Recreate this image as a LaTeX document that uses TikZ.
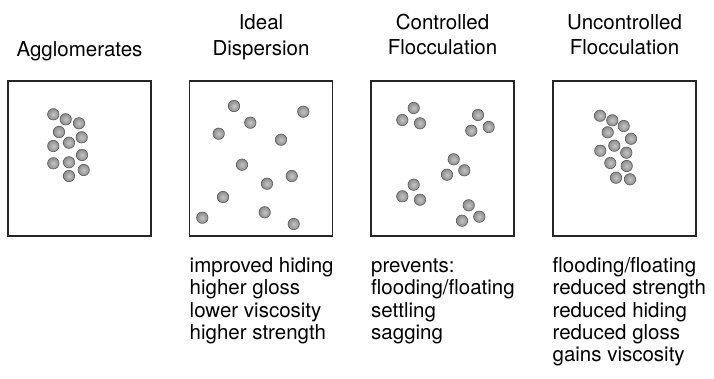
\documentclass[tikz,border=0pt]{standalone}
\usepackage{fontspec}
\setmainfont{TeX Gyre Heros}

\begin{document}
\begin{tikzpicture}[x=1pt,y=-1pt,
  box/.style={draw=black!85,line width=1.1pt,minimum width=143pt,minimum height=155pt,inner sep=0pt},
  particle/.style={inner color=gray!45,outer color=gray!90,draw=black!65,line width=0.6pt},
  title/.style={align=center,anchor=base,font=\fontsize{20.5}{25.5}\selectfont,inner sep=0pt},
  effects/.style={align=left,anchor=base west,font=\fontsize{20.5}{22.3}\selectfont,inner sep=0pt}]
\useasboundingbox (0,0) rectangle (714,378);

% the four states
\node (agg) [box] at (79.5,158.5) {};
\node (ideal) [box] at (261,158.5) {};
\node (ctrl) [box] at (442.5,158.5) {};
\node (unctrl) [box] at (624.5,158.5) {};

% titles (base = last line)
\node (aggtitle) [title] at (79.5,56.5) {Agglomerates};
\node (idealtitle) [title] at (261,55) {Ideal\\Dispersion};
\node (ctrltitle) [title] at (442.5,54.7) {Controlled\\Flocculation};
\node (unctrltitle) [title] at (624.5,54.7) {Uncontrolled\\Flocculation};

% pigment particles
\foreach \px/\py in {53.3/114.3,65.7/119.3,79/123.3,59/132,81.7/137.3,69/142.7,
    53.3/146,82/155,69/162.3,53.3/163.3,83.7/170,69/176}
  \shadedraw[particle] (\px,\py) circle (5.7pt);
\foreach \px/\py in {234/106,303.3/111.7,250.3/122.7,218.7/133.7,281/139.7,242/164.7,
    291.7/176,267/183.7,223/197,264.7/212.3,202.3/217.7,293.7/224}
  \shadedraw[particle] (\px,\py) circle (5.7pt);
\foreach \px/\py in {413.7/108,402.3/120,420/123.3,478/115,488.7/127,471.3/130.7,
    453.7/159.3,464.3/170.3,447/174.7,413.7/184.7,402.3/196.3,420/199.7,
    468.7/205.3,479.3/216.7,462/220.7}
  \shadedraw[particle] (\px,\py) circle (5.7pt);
\foreach \px/\py in {600/115.7,612.3/120.3,623.7/126,607.7/132.3,631/138.7,614.3/145.7,
    600.3/150.7,626.3/152.7,610.3/163,626.7/166,616/177.7,630/179.3}
  \shadedraw[particle] (\px,\py) circle (5.7pt);

% effects (base = last line)
\node (idealfx) [effects] at (189.5,339.4) {improved hiding\\higher gloss\\lower viscosity\\higher strength};
\node (ctrlfx) [effects] at (371,339.4) {prevents:\\flooding/floating\\settling\\sagging};
\node (unctrlfx) [effects] at (552.5,361.7) {flooding/floating\\reduced strength\\reduced hiding\\reduced gloss\\gains viscosity};
\end{tikzpicture}
\end{document}
